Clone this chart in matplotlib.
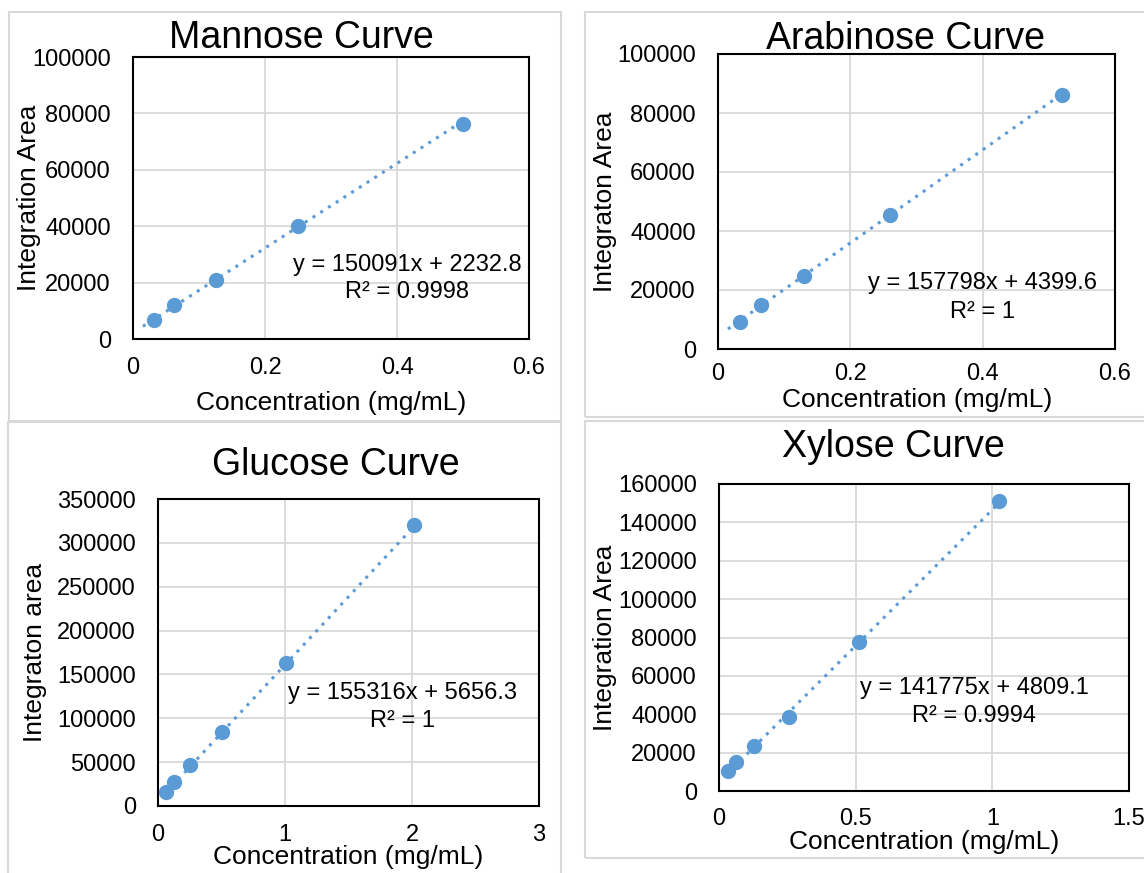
import matplotlib
matplotlib.use("Agg")
import matplotlib.pyplot as plt
from matplotlib.patches import Rectangle

plt.rcParams['font.family'] = ['Liberation Sans', 'DejaVu Sans']

W, H = 1144, 873

# datos
titles = ["Mannose Curve", "Arabinose Curve", "Glucose Curve", "Xylose Curve"]
ylabels = ["Integration Area", "Integraton Area", "Integraton area", "Integration Area"]
xlabel = "Concentration (mg/mL)"

mannose_x = [0.03125, 0.0625, 0.125, 0.25, 0.5]
mannose_y = [6700, 11900, 20900, 40200, 76200]
arabinose_x = [0.0325, 0.065, 0.13, 0.26, 0.52]
arabinose_y = [9250, 14900, 24600, 45500, 86100]
glucose_x = [0.062, 0.126, 0.252, 0.505, 1.005, 2.015]
glucose_y = [16300, 27000, 47000, 84000, 163000, 320500]
xylose_x = [0.033, 0.064, 0.129, 0.257, 0.512, 1.024]
xylose_y = [10600, 15100, 23200, 38800, 77500, 151000]

slopes = [150091, 157798, 155316, 141775]
intercepts = [2232.8, 4399.6, 5656.3, 4809.1]
r2 = ["0.9998", "1", "1", "0.9994"]
trend_start = [0.015, 0.015, 0.06, 0.03]

xticks = [[0, 0.2, 0.4, 0.6], [0, 0.2, 0.4, 0.6], [0, 1, 2, 3], [0, 0.5, 1, 1.5]]
xticklabels = [["0", "0.2", "0.4", "0.6"], ["0", "0.2", "0.4", "0.6"],
               ["0", "1", "2", "3"], ["0", "0.5", "1", "1.5"]]
yticks = [list(range(0, 100001, 20000)), list(range(0, 100001, 20000)),
          list(range(0, 350001, 50000)), list(range(0, 160001, 20000))]

xs = [mannose_x, arabinose_x, glucose_x, xylose_x]
ys = [mannose_y, arabinose_y, glucose_y, xylose_y]

# cajas de ejes en píxeles: izquierda, derecha, arriba, abajo
boxes = [(133, 529, 57, 339), (718, 1115, 54, 349),
         (158, 539, 499, 806), (719, 1129, 484, 791)]
xpad = [13, 10, 13, 12]
# posiciones de textos en píxeles
title_pos = [(301, 38), (905, 39), (336, 465), (893, 447)]
ylab_pos = [(29, 198), (605, 202), (35, 652), (605, 638)]
xlab_pos = [(331, 403), (917, 400), (348, 857), (924, 842)]
eq_pos = [(407, 265), (983, 283), (402, 693), (974, 688)]
r2_pos = [(407, 292), (982, 312), (402, 721), (974, 716)]
frames = [(9, 12, 561, 421), (585, 12, 1150, 417), (8, 422, 561, 880), (585, 421, 1150, 858)]

blue = '#5b9bd5'

fig = plt.figure(figsize=(W / 100, H / 100), dpi=100)

def fx(px):
    return px / W

def fy(py):
    return 1 - py / H

for (x0, y0, x1, y1) in frames:
    fig.patches.append(Rectangle((fx(x0), fy(y1)), fx(x1 - x0), (y1 - y0) / H,
                                 transform=fig.transFigure, fill=False,
                                 edgecolor='#d9d9d9', lw=1.5))

for i in range(4):
    l, r, t, b = boxes[i]
    ax = fig.add_axes([fx(l), fy(b), fx(r - l), (b - t) / H])
    x0 = trend_start[i]
    x1 = max(xs[i])
    ax.plot([x0, x1], [slopes[i] * x0 + intercepts[i], slopes[i] * x1 + intercepts[i]],
            color=blue, lw=2.2, linestyle=(0, (1, 2)), zorder=2)
    ax.plot(xs[i], ys[i], 'o', color=blue, markersize=10, zorder=3)
    ax.set_xlim(xticks[i][0], xticks[i][-1])
    ax.set_ylim(yticks[i][0], yticks[i][-1])
    ax.set_xticks(xticks[i])
    ax.set_xticklabels(xticklabels[i])
    ax.set_yticks(yticks[i])
    ax.set_yticklabels([str(v) for v in yticks[i]])
    ax.grid(True, color='#d9d9d9', lw=1.3)
    ax.set_axisbelow(True)
    ax.tick_params(length=0, labelsize=17)
    ax.tick_params(axis='x', pad=xpad[i])
    ax.tick_params(axis='y', pad=16)
    for s in ax.spines.values():
        s.set_linewidth(1.5)
        s.set_color('black')

    fig.text(fx(title_pos[i][0]), fy(title_pos[i][1]), titles[i], fontsize=27,
             ha='center', va='center')
    fig.text(fx(ylab_pos[i][0]), fy(ylab_pos[i][1]), ylabels[i], fontsize=19,
             ha='center', va='center', rotation=90)
    fig.text(fx(xlab_pos[i][0]), fy(xlab_pos[i][1]), xlabel, fontsize=19,
             ha='center', va='center')
    fig.text(fx(eq_pos[i][0]), fy(eq_pos[i][1]),
             f"y = {slopes[i]}x + {intercepts[i]}", fontsize=17,
             ha='center', va='center')
    fig.text(fx(r2_pos[i][0]), fy(r2_pos[i][1]), f"R² = {r2[i]}", fontsize=17,
             ha='center', va='center')

fig.savefig("out.png", dpi=100)
